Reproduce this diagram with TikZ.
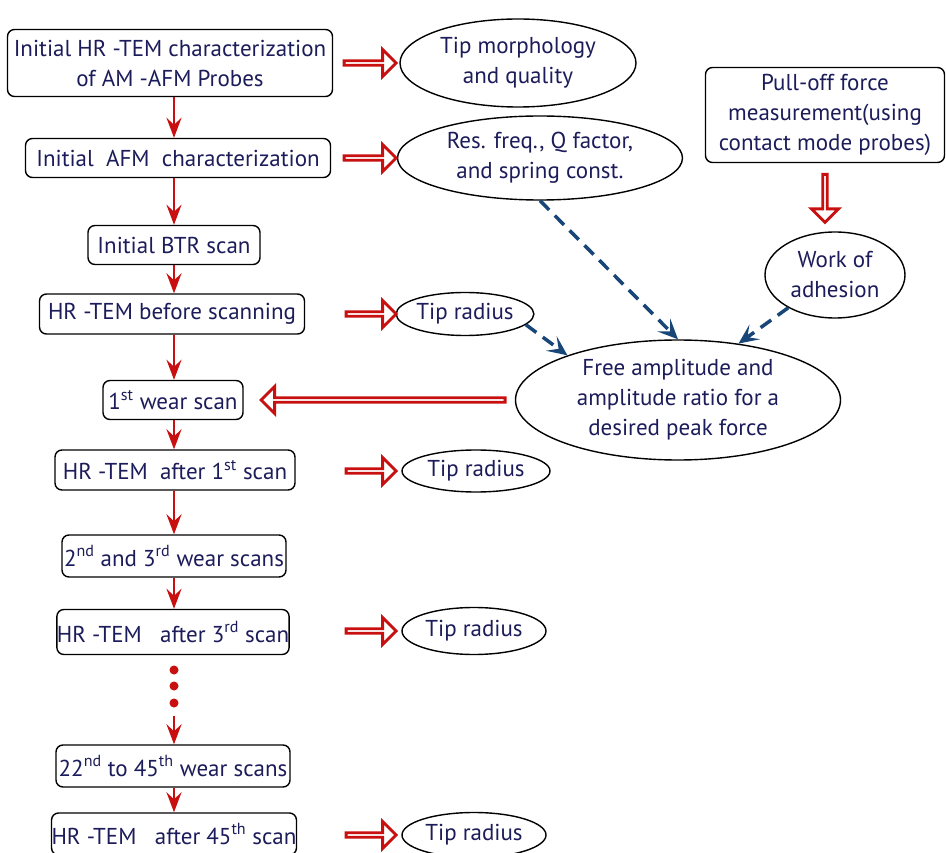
\documentclass[tikz,border=0pt]{standalone}
\usepackage{fontspec}
\setmainfont{PT Sans}
\usetikzlibrary{arrows.meta,shapes.geometric,shapes.arrows,calc}
\definecolor{txt}{RGB}{28,28,90}
\definecolor{redc}{RGB}{200,16,16}
\definecolor{bluec}{RGB}{25,70,120}
\begin{document}
\begin{tikzpicture}[x=1pt,y=-1pt,
  every node/.style={text=txt,font=\fontsize{23}{30}\selectfont,align=center,inner sep=0pt},
  box/.style={draw=black,line width=1.4pt,rounded corners=7pt},
  ell/.style={draw=black,line width=1.4pt,ellipse,inner sep=0pt},
  redarrow/.style={draw=redc,line width=2.6pt,-{Stealth[length=20pt,width=15pt,inset=7pt]}},
  bluearrow/.style={draw=bluec,line width=3.5pt,dash pattern=on 13pt off 8pt,-{Stealth[length=20pt,width=18pt,inset=9pt]}},
  hollowr/.style={single arrow,draw=redc,fill=white,line width=2.8pt,minimum width=27pt,single arrow head extend=7pt,inner sep=0pt,single arrow tip angle=90},
  reddot/.style={circle,fill=redc,inner sep=0pt,minimum size=9pt}
]
\useasboundingbox (0,0) rectangle (946,853);
\fill[white] (0,0) rectangle (946,853);
\coordinate (spine) at (174,0);
\coordinate (hx) at (369,0);
% left column
\node[box,minimum width=325pt,minimum height=67pt] (b1) at (170,63) {Initial HR -TEM characterization\\of AM -AFM Probes};
\node[box,minimum width=305pt,minimum height=39pt] (b2) at (178,158) {Initial\ \ AFM\ \ characterization};
\node[box,minimum width=172pt,minimum height=39pt] (b3) at (174,245) {Initial BTR scan};
\node[box,minimum width=265pt,minimum height=40pt] (b4) at (172,314) {HR -TEM before scanning};
\node[box,minimum width=140pt,minimum height=39pt] (b5) at (173,400) {1\textsuperscript{st} wear scan};
\node[box,minimum width=240pt,minimum height=40pt] (b6) at (175,470) {HR -TEM\ \ after 1\textsuperscript{st} scan};
\node[box,minimum width=224pt,minimum height=42pt] (b7) at (174,556) {2\textsuperscript{nd} and 3\textsuperscript{rd} wear scans};
\node[box,minimum width=232pt,minimum height=45pt] (b8) at (173,632) {HR -TEM\ \ \ after 3\textsuperscript{rd} scan};
\node[box,minimum width=234pt,minimum height=42pt] (b9) at (173,766) {22\textsuperscript{nd} to 45\textsuperscript{th} wear scans};
\node[box,minimum width=244pt,minimum height=42pt] (b10) at (174,834) {HR -TEM\ \ \ after 45\textsuperscript{th} scan};
% ellipses
\node[ell,minimum width=236pt,minimum height=88pt] (e1) at (518,63) {Tip morphology\\and quality};
\node[ell,minimum width=285pt,minimum height=84pt] (e2) at (540,158) {Res. freq., Q factor,\\and spring const.};
\node[ell,minimum width=130pt,minimum height=43pt] (t1) at (465,314) {Tip radius};
\node[ell,minimum width=148pt,minimum height=42pt] (t2) at (476,471) {Tip radius};
\node[ell,minimum width=144pt,minimum height=47pt] (t3) at (474,631) {Tip radius};
\node[ell,minimum width=144pt,minimum height=45pt] (t4) at (474,835) {Tip radius};
\node[ell,minimum width=325pt,minimum height=120pt] (free) at (678,400) {Free amplitude and\\amplitude ratio for a\\desired peak force};
\node[box,minimum width=239pt,minimum height=95pt] (pull) at (825,115) {Pull-off force\\measurement(using\\contact mode probes)};
\node[ell,minimum width=140pt,minimum height=86pt] (work) at (835,275) {Work of\\adhesion};
% dots
\node[reddot] (d1) at (174,670) {};
\node[reddot] (d2) at (174,686) {};
\node[reddot] (d3) at (174,703) {};
\coordinate (dend) at (174,716);
% vertical red arrows
\draw[redarrow] (b1.south -| spine) -- (b2.north -| spine);
\draw[redarrow] (b2.south -| spine) -- (b3.north -| spine);
\draw[redarrow] (b3.south -| spine) -- (b4.north -| spine);
\draw[redarrow] (b4.south -| spine) -- (b5.north -| spine);
\draw[redarrow] (b5.south -| spine) -- (b6.north -| spine);
\draw[redarrow] (b6.south -| spine) -- (b7.north -| spine);
\draw[redarrow] (b7.south -| spine) -- (b8.north -| spine);
\draw[redarrow] (dend) -- (b9.north -| spine);
\draw[redarrow] (b9.south -| spine) -- (b10.north -| spine);
% hollow arrows
\node[hollowr,minimum height=52pt] (h1) at (b1.east -| hx) {};
\node[hollowr,minimum height=52pt] (h2) at (b2.east -| hx) {};
\node[hollowr,minimum height=50pt] (h3) at ($(b4.east -| hx)+(1,0)$) {};
\node[hollowr,minimum height=50pt] (h4) at ($(t2.west -| hx)+(1,0)$) {};
\node[hollowr,minimum height=50pt] (h5) at ($(t3.west -| hx)+(1,0)$) {};
\node[hollowr,minimum height=50pt] (h6) at ($(t4.west -| hx)+(1,0)$) {};
\node[hollowr,minimum height=244pt,shape border rotate=180] (hl) at ($(free.west)!0.5!(b5.east)+(5,0)$) {};
\node[hollowr,minimum height=48pt,shape border rotate=270] (hv) at ($(pull.south)!0.5!(pull.south |- work.north)$) {};
% blue dashed arrows
\draw[bluearrow] (e2.south) -- (free.north);
\draw[bluearrow] (t1.-10) -- (free.158);
\draw[bluearrow] (work.215) -- (free.43);
\end{tikzpicture}
\end{document}
